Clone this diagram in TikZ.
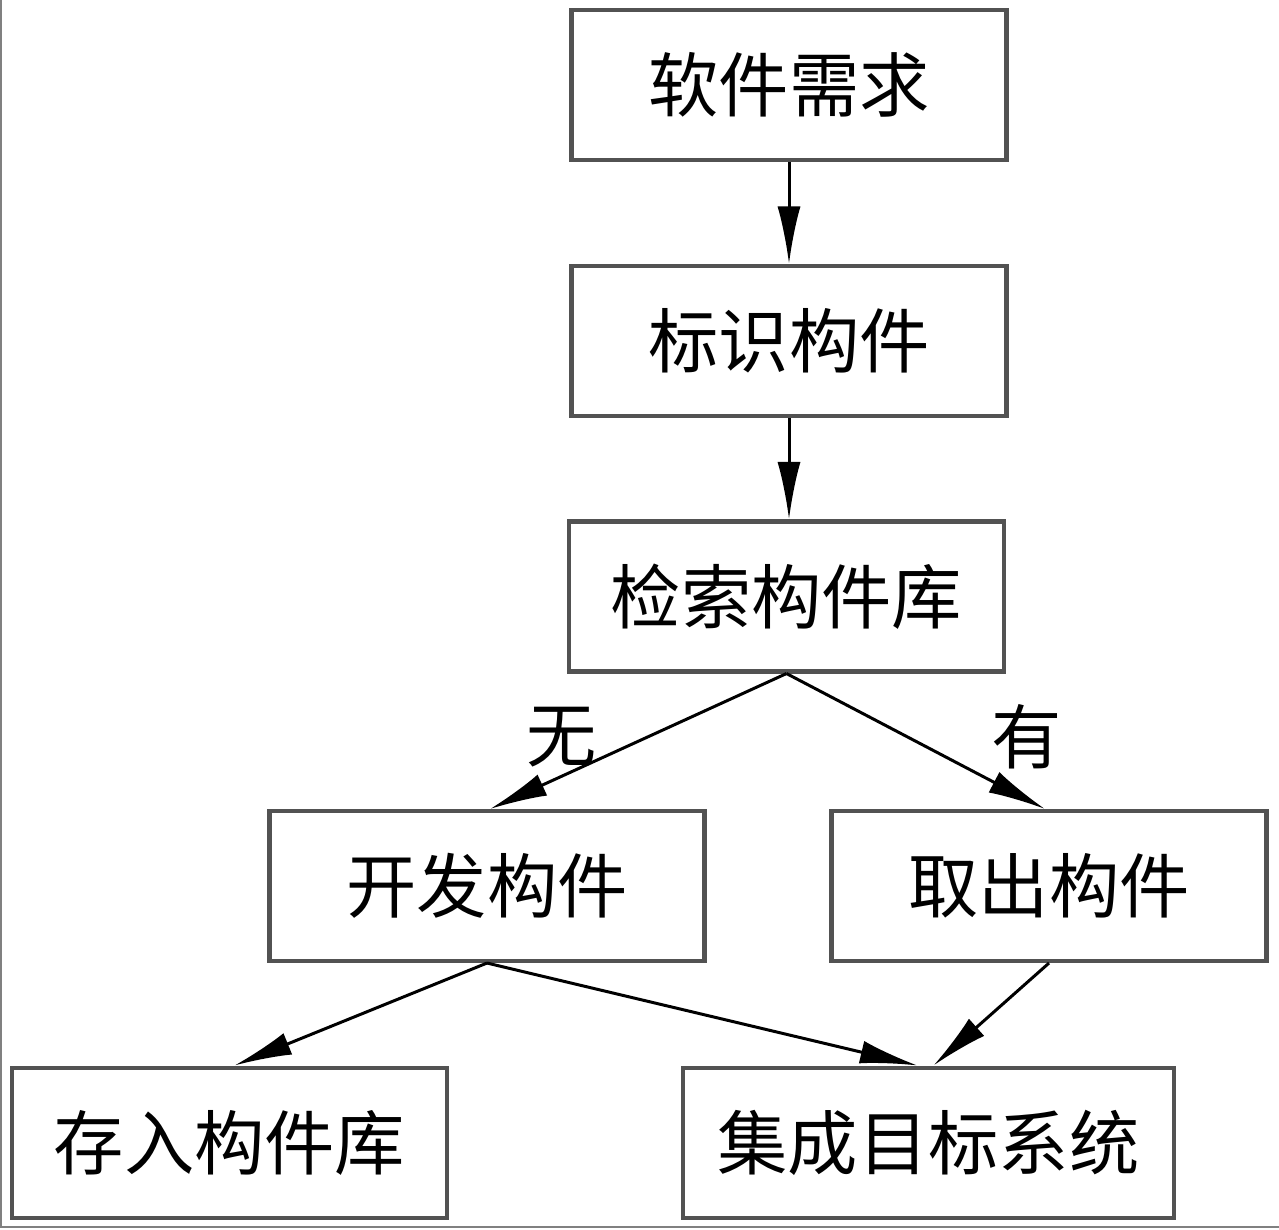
\documentclass[tikz,border=0pt]{standalone}
\usepackage{fontspec}
\setmainfont{Noto Sans CJK SC}
\usepackage{tikz}
\usetikzlibrary{arrows.meta,calc,positioning}
\definecolor{bordo}{gray}{0.32}

\begin{document}
\begin{tikzpicture}[
  blocco/.style={draw=bordo, line width=2.3pt, minimum width=8.7cm, minimum height=3cm, inner sep=0pt,
    font=\fontsize{40}{44}\selectfont},
  freccia/.style={line width=1.7pt, -{Latex[length=1.15cm,width=0.46cm]}},
  etich/.style={font=\fontsize{40}{44}\selectfont}
]
\useasboundingbox (0,0) rectangle (25.58,-24.58);
% cornice
\draw[gray, line width=1.2pt] (0.02,0) -- (0.02,-24.54) -- (25.58,-24.54);
% blocchi
\node[blocco] (xq) at (15.78,-1.70) {软件需求};
\node[blocco] (bs) at (15.78,-6.82) {标识构件};
\node[blocco] (js) at (15.73,-11.93) {检索构件库};
\node[blocco] (kf) at (9.74,-17.72) {开发构件};
\node[blocco] (qc) at (20.98,-17.72) {取出构件};
\node[blocco] (cr) at (4.59,-22.85) {存入构件库};
\node[blocco, minimum width=9.82cm] (jc) at (18.57,-22.85) {集成目标系统};
% frecce
\draw[freccia] (xq.south) -- (bs.north);
\draw[freccia] (bs.south) -- (bs.south |- js.north);
\draw[freccia] (js.south) -- ($(kf.north)+(0.06,0)$);
\draw[freccia] (js.south) -- ($(qc.north)+(-0.08,0)$);
\draw[freccia] (kf.south) -- ($(cr.north)+(0.1,0)$);
\draw[freccia] (kf.south) -- ($(jc.north)+(-0.22,0)$);
\draw[freccia] (qc.south) -- ($(jc.north)+(0.1,0)$);
% etichette
\node[etich] (no) at (11.24,-14.74) {无};
\node[etich] (si) at (20.54,-14.74) {有};
\end{tikzpicture}
\end{document}
